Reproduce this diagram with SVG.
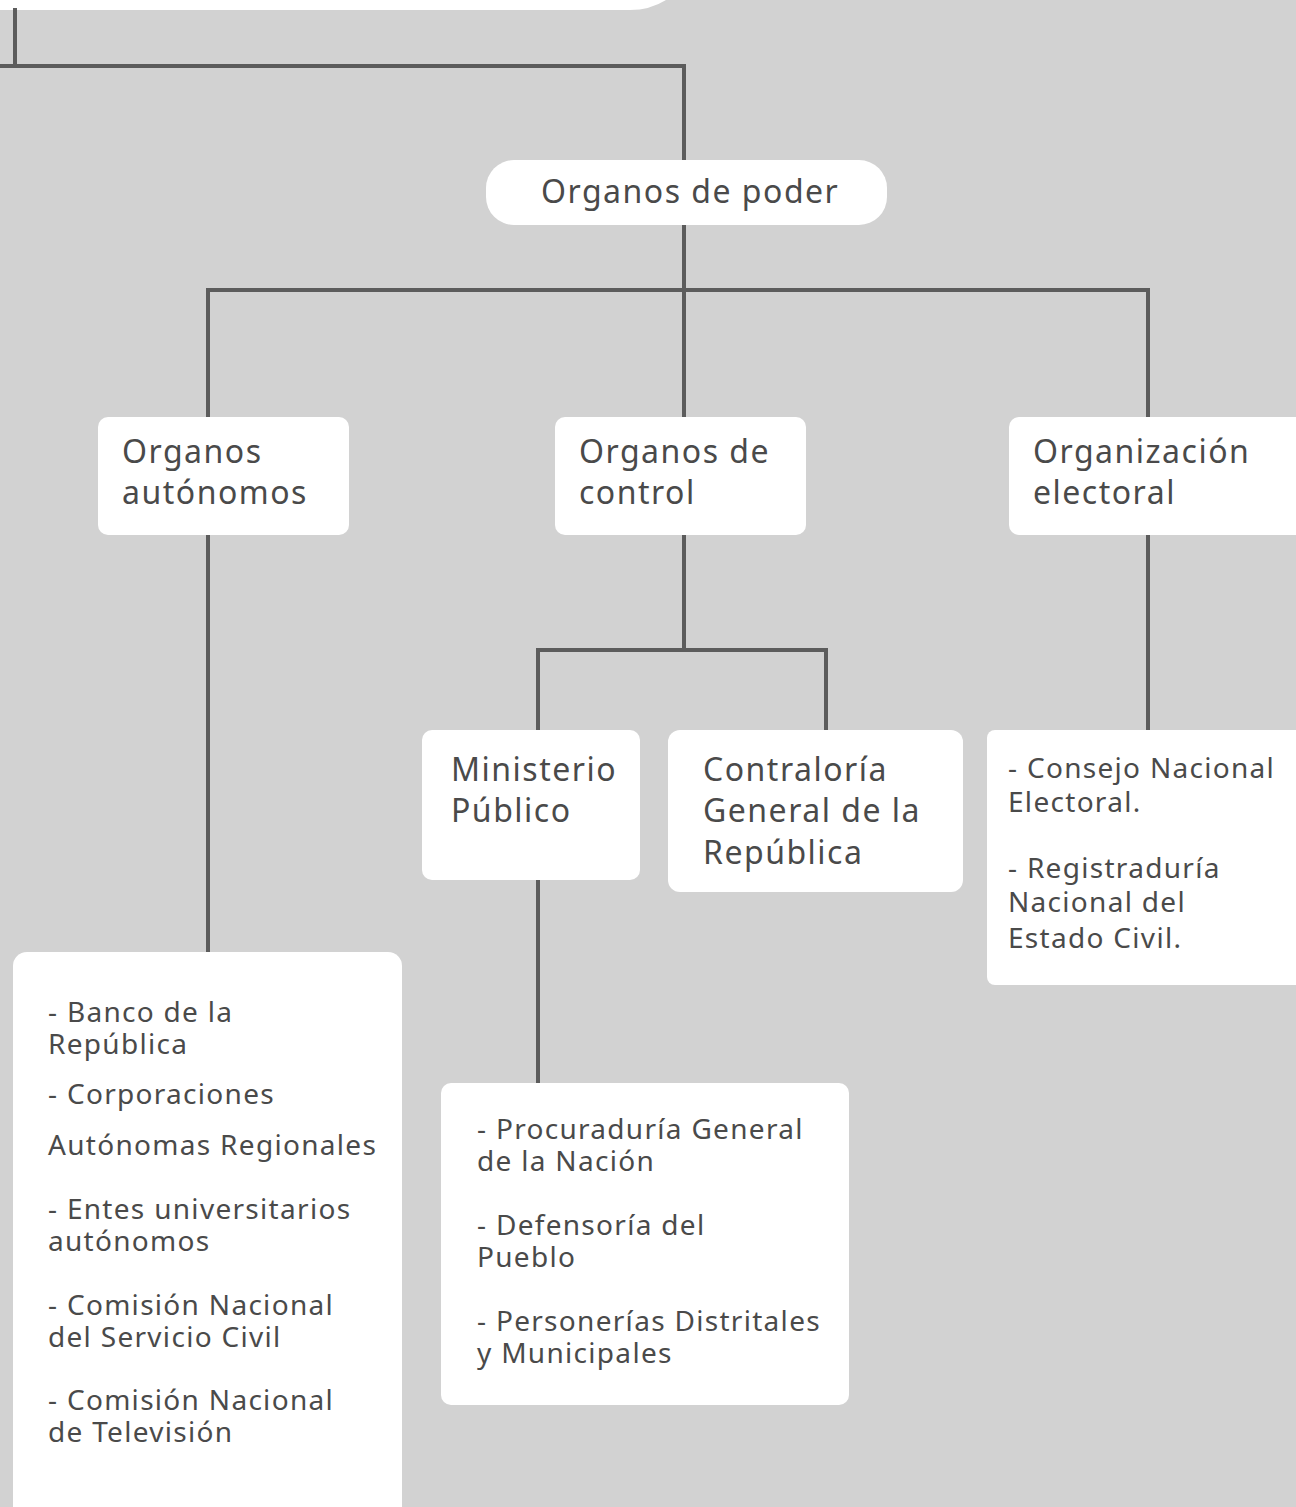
<svg xmlns="http://www.w3.org/2000/svg" width="1296" height="1507" viewBox="0 0 1296 1507">
<style>
.bg{fill:#d2d2d2}
.box{fill:#ffffff}
.ln{stroke:#5c5c5c;stroke-width:4;fill:none;stroke-linecap:square}
text{font-family:"Noto Sans","Liberation Sans",sans-serif;fill:#4a4a4a}
.h{font-size:32px;letter-spacing:1.5px}
.l{font-size:28px;letter-spacing:1.3px}
</style>
<rect class="bg" x="0" y="0" width="1296" height="1507"/>
<g id="top-node"><path class="box" d="M0 0 H666 Q650 10 630 10 H0 Z"/></g>
<g id="connectors">
<path class="ln" d="M15 10 V66 M0 66 H684 V160"/>
<path class="ln" d="M684 225 V290 M208 290 H1148 M208 290 V417 M684 290 V417 M1148 290 V417"/>
<path class="ln" d="M208 535 V952"/>
<path class="ln" d="M684 535 V650 M538 650 H826 M538 650 V730 M826 650 V730"/>
<path class="ln" d="M1148 535 V730"/>
<path class="ln" d="M538 880 V1083"/>
</g>
<g id="organos-poder"><rect class="box" x="486" y="160" width="401" height="65" rx="28"/><text class="h" x="541" y="203">Organos de poder</text></g>
<g id="organos-autonomos"><rect class="box" x="98" y="417" width="251" height="118" rx="10"/><text class="h" x="122" y="463">Organos</text><text class="h" x="122" y="504">autónomos</text></g>
<g id="organos-control"><rect class="box" x="555" y="417" width="251" height="118" rx="10"/><text class="h" x="579" y="463">Organos de</text><text class="h" x="579" y="504">control</text></g>
<g id="organizacion-electoral"><rect class="box" x="1009" y="417" width="300" height="118" rx="10"/><text class="h" x="1033" y="463">Organización</text><text class="h" x="1033" y="504">electoral</text></g>
<g id="ministerio-publico"><rect class="box" x="422" y="730" width="218" height="150" rx="10"/><text class="h" x="451" y="781">Ministerio</text><text class="h" x="451" y="822">Público</text></g>
<g id="contraloria"><rect class="box" x="668" y="730" width="295" height="162" rx="12"/><text class="h" x="703" y="781">Contraloría</text><text class="h" x="703" y="822">General de la</text><text class="h" x="703" y="864">República</text></g>
<g id="electoral-list"><rect class="box" x="987" y="730" width="320" height="255" rx="8"/><text class="l" x="1008" y="778">- Consejo Nacional</text><text class="l" x="1008" y="812">Electoral.</text><text class="l" x="1008" y="878">- Registraduría</text><text class="l" x="1008" y="912">Nacional del</text><text class="l" x="1008" y="948">Estado Civil.</text></g>
<g id="autonomos-list"><rect class="box" x="13" y="952" width="389" height="570" rx="14"/><text class="l" x="48" y="1022">- Banco de la</text><text class="l" x="48" y="1054">República</text><text class="l" x="48" y="1104">- Corporaciones</text><text class="l" x="48" y="1155">Autónomas Regionales</text><text class="l" x="48" y="1219">- Entes universitarios</text><text class="l" x="48" y="1251">autónomos</text><text class="l" x="48" y="1315">- Comisión Nacional</text><text class="l" x="48" y="1347">del Servicio Civil</text><text class="l" x="48" y="1410">- Comisión Nacional</text><text class="l" x="48" y="1442">de Televisión</text></g>
<g id="ministerio-list"><rect class="box" x="441" y="1083" width="408" height="322" rx="10"/><text class="l" x="477" y="1139">- Procuraduría General</text><text class="l" x="477" y="1171">de la Nación</text><text class="l" x="477" y="1235">- Defensoría del</text><text class="l" x="477" y="1267">Pueblo</text><text class="l" x="477" y="1331">- Personerías Distritales</text><text class="l" x="477" y="1363">y Municipales</text></g>
</svg>
